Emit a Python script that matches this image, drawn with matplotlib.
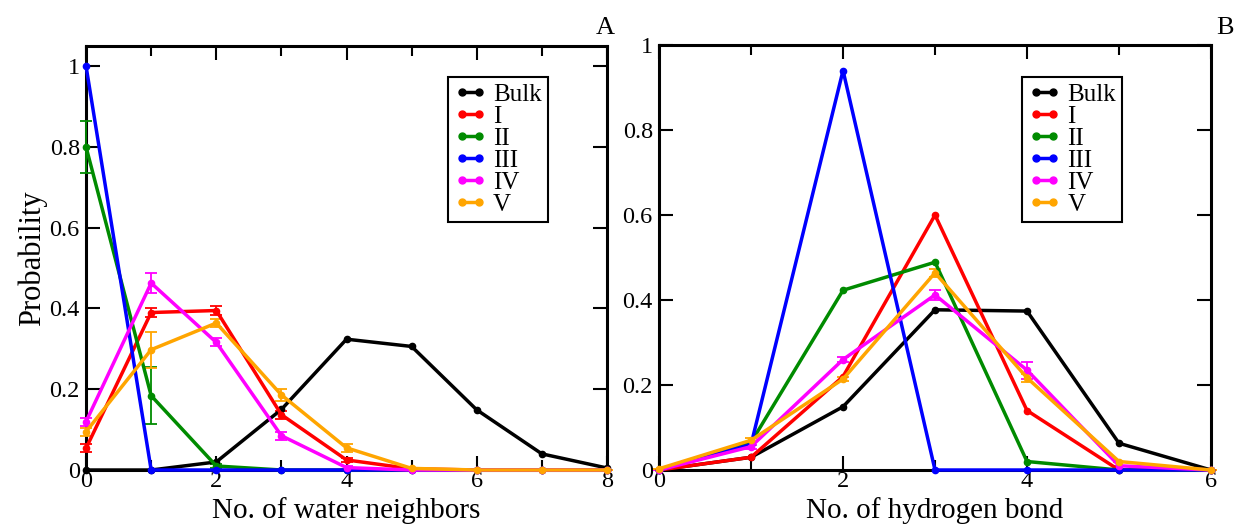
import matplotlib
matplotlib.use('Agg')
import matplotlib.pyplot as plt
from matplotlib.lines import Line2D
from matplotlib.ticker import MultipleLocator, FuncFormatter

# panel A: number of water neighbors
nw = [0, 1, 2, 3, 4, 5, 6, 7, 8]
nw_bulk = [0.0, 0.0, 0.02, 0.15, 0.324, 0.306, 0.149, 0.04, 0.005]
nw_I = [0.054, 0.39, 0.395, 0.137, 0.025, 0.003, 0.0, 0.0, 0.0]
nw_II = [0.8, 0.184, 0.01, 0.0, 0.0, 0.0, 0.0, 0.0, 0.0]
nw_III = [1.0, 0.0, 0.0, 0.0, 0.0, 0.0, 0.0, 0.0, 0.0]
nw_IV = [0.12, 0.463, 0.316, 0.085, 0.006, 0.0, 0.0, 0.0, 0.0]
nw_V = [0.095, 0.298, 0.364, 0.186, 0.055, 0.004, 0.0, 0.0, 0.0]
nw_err_I = [0.01, 0.01, 0.01, 0.01, 0.005, 0, 0, 0, 0]
nw_err_II = [0.065, 0.07, 0.005, 0, 0, 0, 0, 0, 0]
nw_err_IV = [0.01, 0.025, 0.01, 0.01, 0.003, 0, 0, 0, 0]
nw_err_V = [0.01, 0.045, 0.01, 0.015, 0.01, 0, 0, 0, 0]

# panel B: number of hydrogen bonds
hb = [0, 1, 2, 3, 4, 5, 6]
hb_bulk = [0.0, 0.03, 0.149, 0.377, 0.374, 0.063, 0.0]
hb_I = [0.0, 0.03, 0.22, 0.6, 0.14, 0.0, 0.0]
hb_II = [0.0, 0.065, 0.423, 0.489, 0.02, 0.0, 0.0]
hb_III = [0.0, 0.06, 0.94, 0.0, 0.0, 0.0, 0.0]
hb_IV = [0.0, 0.055, 0.26, 0.412, 0.235, 0.01, 0.0]
hb_V = [0.003, 0.07, 0.214, 0.464, 0.217, 0.02, 0.0]
hb_err_IV = [0, 0.005, 0.005, 0.012, 0.02, 0, 0]
hb_err_V = [0, 0.005, 0.005, 0.01, 0.01, 0, 0]

labels = ['Bulk', 'I', 'II', 'III', 'IV', 'V']
colors = ['black', '#ff0000', '#008b00', '#0000ff', '#ff00ff', '#ffa500']

plt.rcParams['font.family'] = ['Liberation Serif', 'DejaVu Serif']

fig = plt.figure(figsize=(12.4, 5.29), dpi=100)
axA = fig.add_axes([0.0694, 0.1115, 0.4201, 0.8015])
axB = fig.add_axes([0.5315, 0.1115, 0.4451, 0.8034])


def yfmt(v, pos):
    if abs(v) < 1e-9:
        return '0'
    if abs(v - 1) < 1e-9:
        return '1'
    return '%.1f' % v


def draw(ax, x, series, errs):
    for y, c, e in zip(series, colors, errs):
        ax.errorbar(x, y, yerr=e, color=c, lw=2.5, marker='o', ms=4.5,
                    capsize=4, elinewidth=1.3, capthick=1.3,
                    clip_on=False, zorder=3)


def style(ax, xmax, ymax, legx, legy):
    ax.set_xlim(0, xmax)
    ax.set_ylim(0, ymax)
    ax.xaxis.set_major_locator(MultipleLocator(2))
    ax.xaxis.set_minor_locator(MultipleLocator(1))
    ax.yaxis.set_major_locator(MultipleLocator(0.2))
    ax.yaxis.set_major_formatter(FuncFormatter(yfmt))
    ax.tick_params(which='both', direction='in', top=True, right=True,
                   labelsize=17.5, width=1.5)
    ax.tick_params(axis='x', pad=1)
    ax.tick_params(axis='y', pad=4.5)
    ax.tick_params(which='major', length=10)
    ax.tick_params(which='minor', length=7)
    for s in ax.spines.values():
        s.set_linewidth(2.2)
    handles = [Line2D([0], [0], color=c, lw=2.5, marker='o', ms=5)
               for c in colors]
    leg = ax.legend(handles, labels, loc='upper left',
                    bbox_to_anchor=(legx, legy),
                    fontsize=18, numpoints=2, handlelength=1.3,
                    handletextpad=0.25, labelspacing=-0.02, borderpad=0.25,
                    borderaxespad=0, fancybox=False, framealpha=1,
                    edgecolor='black')
    leg.get_frame().set_linewidth(1.5)


draw(axA, nw, [nw_bulk, nw_I, nw_II, nw_III, nw_IV, nw_V],
     [None, nw_err_I, nw_err_II, None, nw_err_IV, nw_err_V])
style(axA, 8, 1.05, 0.695, 0.927)
axA.set_xlabel('No. of water neighbors', fontsize=21)
axA.xaxis.set_label_coords(0.5, -0.064)
axA.set_ylabel('Probability', fontsize=22, labelpad=2)

draw(axB, hb, [hb_bulk, hb_I, hb_II, hb_III, hb_IV, hb_V],
     [None, None, None, None, hb_err_IV, hb_err_V])
style(axB, 6, 1.0, 0.658, 0.925)
axB.set_xlabel('No. of hydrogen bond', fontsize=21)
axB.xaxis.set_label_coords(0.5, -0.064)

fig.text(0.488, 0.947, 'A', fontsize=19, ha='center', va='center')
fig.text(0.988, 0.947, 'B', fontsize=19, ha='center', va='center')

fig.savefig('out.png', dpi=100)
